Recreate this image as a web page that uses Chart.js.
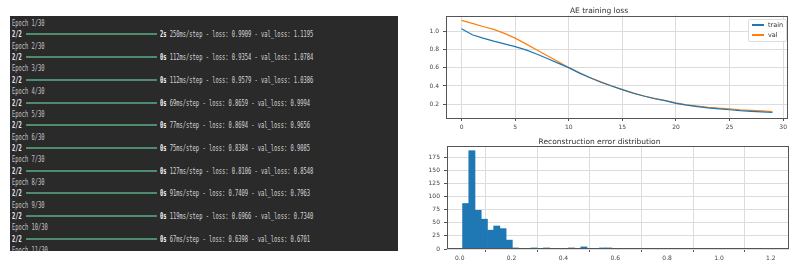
<!DOCTYPE html>
<html>
<head>
<meta charset="utf-8">
<script src="https://cdn.jsdelivr.net/npm/chart.js@4.4.1/dist/chart.umd.min.js"></script>
<style>
  body { margin: 0; background: #fff; width: 800px; height: 268px; overflow: hidden; position: relative; font-family: "DejaVu Sans", sans-serif; }
  #term { position: absolute; left: 10px; top: 16px; width: 388px; height: 235px; background: #2a2a2a; overflow: hidden; }
  .ln { position: absolute; left: 0; height: 12px; line-height: 12px; font-family: "DejaVu Sans Mono", monospace; font-size: 9.5px; white-space: nowrap; }
  .sq { position: absolute; top: 0; display: inline-block; transform: scaleX(0.57); transform-origin: 0 50%; }
  .ep { color: #c6c6c6; }
  .cnt { color: #f4ecf4; font-weight: bold; }
  .st { color: #d6d6d6; }
  .st b { color: #f6f6f6; }
  .bar { position: absolute; left: 16px; top: 5px; width: 131px; height: 2px; background: #4f8c6f; }
  .cv { position: absolute; }
  #legend { position: absolute; left: 748px; top: 19px; width: 37px; height: 21px; border: 1px solid #dddddd; border-radius: 2px; background: rgba(255,255,255,0.85); font-size: 6.5px; color: #333; }
  #legend div { height: 9px; line-height: 9px; margin-top: 1px; white-space: nowrap; }
  #legend span { display: inline-block; width: 12px; height: 1.5px; vertical-align: middle; margin: 0 4px 0 3px; }
</style>
</head>
<body>
<div id="term"></div>
<canvas id="lossChart" class="cv" width="390" height="134" style="left:410px;top:0px"></canvas>
<canvas id="errChart" class="cv" width="390" height="138" style="left:410px;top:130px"></canvas>
<div id="legend"></div>
<script>
// training log shown on the left
const stepTimes = ["2s 250ms/step", "0s 112ms/step", "0s 112ms/step", "0s 69ms/step", "0s 77ms/step",
  "0s 75ms/step", "0s 127ms/step", "0s 91ms/step", "0s 119ms/step", "0s 67ms/step"];
const logLoss = ["0.9909", "0.9354", "0.9579", "0.8659", "0.8694", "0.8384", "0.8106", "0.7409", "0.6966", "0.6398"];
const logValLoss = ["1.1195", "1.0784", "1.0386", "0.9994", "0.9656", "0.9085", "0.8548", "0.7963", "0.7340", "0.6701"];

// AE training loss
const epochIdx = [0, 1, 2, 3, 4, 5, 6, 7, 8, 9, 10, 11, 12, 13, 14, 15, 16, 17, 18, 19, 20, 21, 22, 23, 24, 25, 26, 27, 28, 29];
const trainLoss = [1.026, 0.96, 0.923, 0.89, 0.86, 0.83, 0.795, 0.75, 0.70, 0.65, 0.60, 0.54, 0.49, 0.44, 0.40,
  0.36, 0.32, 0.29, 0.26, 0.24, 0.21, 0.19, 0.175, 0.16, 0.15, 0.14, 0.13, 0.123, 0.116, 0.11];
const valLoss = [1.117, 1.084, 1.05, 1.018, 0.975, 0.923, 0.86, 0.795, 0.73, 0.667, 0.60, 0.545, 0.49, 0.445, 0.40,
  0.36, 0.325, 0.29, 0.265, 0.24, 0.215, 0.195, 0.18, 0.167, 0.157, 0.15, 0.14, 0.134, 0.127, 0.12];

// Reconstruction error histogram (50 bins)
const binMin = 0.011;
const binMax = 1.211;
const errCounts = [87, 188, 74, 57, 36, 44, 39, 17, 2, 1, 0, 2, 0, 2, 0, 0, 0, 2, 1, 4, 0, 0, 2, 2, 1,
  0, 0, 1, 1, 0, 0, 0, 0, 1, 1, 0, 0, 0, 0, 0, 0, 1, 0, 0, 0, 0, 0, 0, 0, 1];

// ---- terminal text ----
const term = document.getElementById("term");
const LINE_H = 11.36;
let row = 0;
function addLine(html) {
  const d = document.createElement("div");
  d.className = "ln";
  d.style.top = (7 + row * LINE_H - 6) + "px";
  d.style.width = "388px";
  d.innerHTML = html;
  term.appendChild(d);
  row++;
}
for (let i = 0; i < stepTimes.length; i++) {
  addLine('<span class="sq ep" style="left:2px">Epoch ' + (i + 1) + '/30</span>');
  const parts = stepTimes[i].split(" ");
  addLine('<span class="sq cnt" style="left:2px">2/2</span><div class="bar"></div>' +
    '<span class="sq st" style="left:150px"><b>' + parts[0] + '</b> ' + parts[1] +
    ' - loss: ' + logLoss[i] + ' - val_loss: ' + logValLoss[i] + '</span>');
}
addLine('<span class="sq ep" style="left:2px">Epoch 11/30</span>');

// ---- charts ----
const FONT = "DejaVu Sans";
const TICK_FONT = { family: FONT, size: 6 };
const frame = {
  id: "frame",
  afterDraw(chart) {
    const a = chart.chartArea, ctx = chart.ctx;
    ctx.save();
    ctx.strokeStyle = "#555";
    ctx.lineWidth = 1;
    ctx.strokeRect(Math.round(a.left) + 0.5, Math.round(a.top) + 0.5,
      Math.round(a.right - a.left) - 1, Math.round(a.bottom - a.top) - 1);
    ctx.restore();
  },
};

function axisStyle(extra) {
  return Object.assign({
    type: "linear",
    grid: { color: "#dcdcdc", tickColor: "#555", tickLength: 3 },
    border: { display: false },
  }, extra);
}

const lossChart = new Chart(document.getElementById("lossChart"), {
  type: "line",
  data: {
    datasets: [
      { label: "train", data: epochIdx.map((e, i) => ({ x: e, y: trainLoss[i] })),
        borderColor: "#1f77b4", borderWidth: 1.2, pointRadius: 0, tension: 0 },
      { label: "val", data: epochIdx.map((e, i) => ({ x: e, y: valLoss[i] })),
        borderColor: "#ff7f0e", borderWidth: 1.2, pointRadius: 0, tension: 0 },
    ],
  },
  options: {
    responsive: false,
    animation: false,
    devicePixelRatio: 1,
    layout: { padding: { left: 0, right: 12, top: 0, bottom: 0 } },
    plugins: {
      legend: { display: false },
      tooltip: { enabled: false },
      title: { display: true, text: "AE training loss", color: "#333",
        font: { family: FONT, size: 7.5, weight: "normal", lineHeight: 1 }, padding: { top: 7, bottom: 1 } },
    },
    scales: {
      x: axisStyle({
        min: -1.45, max: 30.45,
        ticks: { stepSize: 5, includeBounds: false, color: "#444", font: TICK_FONT, padding: 3, maxRotation: 0 },
        afterFit(s) { s.height = 16; },
      }),
      y: axisStyle({
        min: 0.05, max: 1.17,
        ticks: { stepSize: 0.2, includeBounds: false, color: "#444", font: TICK_FONT, padding: 4,
          callback: (v) => v.toFixed(1) },
        afterFit(s) { s.width = 36; },
      }),
    },
  },
  plugins: [frame],
});

// legend drawn inside the plot area like matplotlib
const legend = document.getElementById("legend");
lossChart.data.datasets.forEach((ds) => {
  const d = document.createElement("div");
  d.innerHTML = '<span style="background:' + ds.borderColor + '"></span>' + ds.label;
  legend.appendChild(d);
});

const binW = (binMax - binMin) / errCounts.length;
new Chart(document.getElementById("errChart"), {
  type: "bar",
  data: {
    datasets: [{
      data: errCounts.map((c, i) => ({ x: binMin + (i + 0.5) * binW, y: c })),
      backgroundColor: "#1f77b4",
      borderWidth: 0,
      barPercentage: 1,
      categoryPercentage: 1,
    }],
  },
  options: {
    responsive: false,
    animation: false,
    devicePixelRatio: 1,
    layout: { padding: { left: 0, right: 11, top: 0, bottom: 0 } },
    plugins: {
      legend: { display: false },
      tooltip: { enabled: false },
      title: { display: true, text: "Reconstruction error distribution", color: "#333",
        font: { family: FONT, size: 7.5, weight: "normal", lineHeight: 1 }, padding: { top: 8, bottom: 0.5 } },
    },
    scales: {
      x: axisStyle({
        min: -0.049, max: 1.27, offset: false,
        ticks: { stepSize: 0.2, includeBounds: false, color: "#444", font: TICK_FONT, padding: 3, maxRotation: 0,
          callback: (v) => v.toFixed(1) },
        afterFit(s) { s.height = 19; },
      }),
      y: axisStyle({
        min: 0, max: 197,
        ticks: { stepSize: 25, includeBounds: false, color: "#444", font: TICK_FONT, padding: 4 },
        afterFit(s) { s.width = 37; },
      }),
    },
  },
  plugins: [frame],
});
</script>
</body>
</html>
